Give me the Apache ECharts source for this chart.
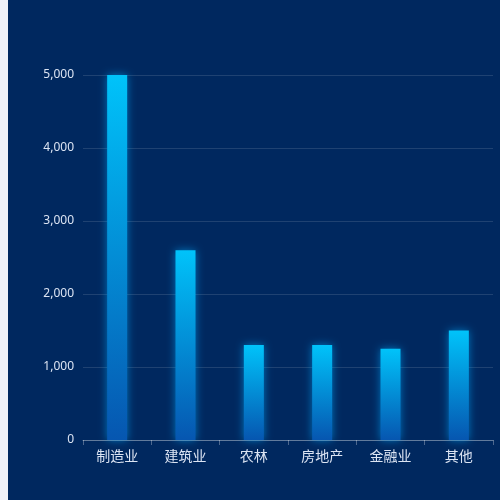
<!DOCTYPE html>
<html>
<head>
<meta charset="utf-8">
<script src="https://cdn.jsdelivr.net/npm/echarts@6/dist/echarts.min.js"></script>
<style>
html,body{margin:0;padding:0;background:#f0f2f8;}
#c{position:absolute;left:8px;top:0;width:492px;height:500px;background:#00285f;}
</style>
</head>
<body>
<div id="c"></div>
<script>
const categories = ['制造业','建筑业','农林','房地产','金融业','其他'];
const values = [5000, 2600, 1300, 1300, 1250, 1500];
const yTicks = [0, 1000, 2000, 3000, 4000, 5000];

const chart = echarts.init(document.getElementById('c'));
chart.setOption({
  backgroundColor: '#00285f',
  grid: { left: 75, right: 7, top: 75, bottom: 60 },
  xAxis: {
    type: 'category',
    data: categories,
    axisLine: { lineStyle: { color: 'rgba(255,255,255,0.3)' } },
    axisTick: { show: true, lineStyle: { color: 'rgba(255,255,255,0.3)' } },
    axisLabel: { color: '#dbe4f3', fontSize: 14, margin: 9, fontFamily: 'Noto Sans CJK SC' }
  },
  yAxis: {
    type: 'value',
    min: yTicks[0],
    max: yTicks[yTicks.length - 1],
    interval: 1000,
    axisLine: { show: false },
    axisTick: { show: false },
    axisLabel: {
      color: '#dbe4f3', fontSize: 12, margin: 9, fontFamily: 'Noto Sans',
      formatter: v => v.toLocaleString('en-US')
    },
    splitLine: { lineStyle: { color: 'rgba(255,255,255,0.12)' } }
  },
  series: [{
    type: 'bar',
    data: values,
    barWidth: 20,
    itemStyle: {
      color: new echarts.graphic.LinearGradient(0, 0, 0, 1, [
        { offset: 0, color: '#00c3fa' },
        { offset: 1, color: '#0656b0' }
      ]),
      shadowColor: 'rgba(0,170,255,0.6)',
      shadowBlur: 8
    }
  }]
});
</script>
</body>
</html>
